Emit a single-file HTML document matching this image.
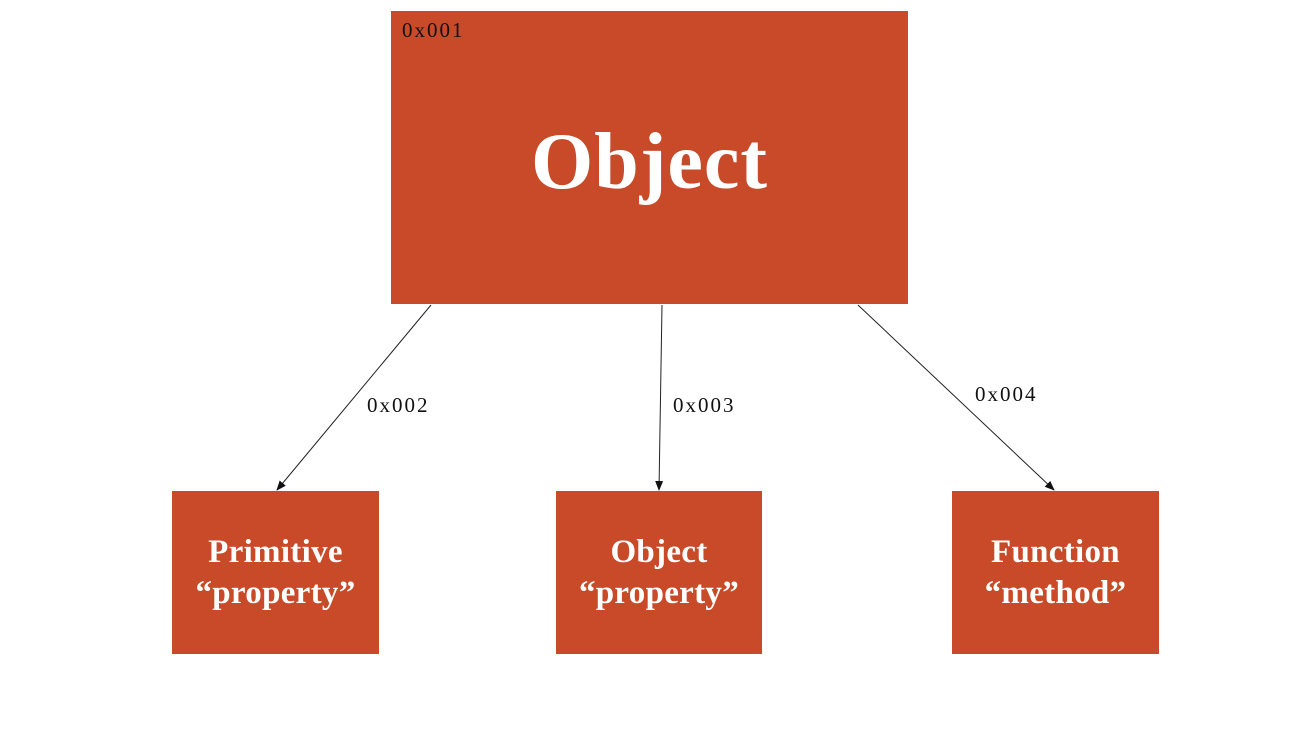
<!DOCTYPE html>
<html><head><meta charset="utf-8"><style>
html,body{margin:0;padding:0;background:#fff;}
body{width:1310px;height:734px;position:relative;overflow:hidden;font-family:"Liberation Serif",serif;}
.box{position:absolute;background:#C84A28;color:#fff;display:flex;align-items:center;justify-content:center;text-align:center;}
.small{font-size:33px;line-height:41px;font-weight:bold;letter-spacing:0.3px;}
.lbl{position:absolute;font-size:21px;letter-spacing:2px;color:#111;}
</style></head><body>
<div class="box" style="left:391px;top:11px;width:517px;height:293px;">
  <div style="font-size:80px;font-weight:bold;letter-spacing:1px;margin-top:10px;">Object</div>
</div>
<div class="lbl" style="left:402px;top:18px;color:#111;">0x001</div>
<div class="box small" style="left:172px;top:491px;width:207px;height:163px;"><div>Primitive<br>“property”</div></div>
<div class="box small" style="left:556px;top:491px;width:206px;height:163px;"><div>Object<br>“property”</div></div>
<div class="box small" style="left:952px;top:491px;width:207px;height:163px;"><div>Function<br>“method”</div></div>
<svg width="1310" height="734" style="position:absolute;left:0;top:0">
<defs><marker id="a" markerWidth="10" markerHeight="8" refX="9" refY="4" orient="auto" markerUnits="userSpaceOnUse"><path d="M0,0 L10,4 L0,8 Z" fill="#111"/></marker></defs>
<g stroke="#222" stroke-width="1" fill="none">
<line x1="431" y1="305" x2="277" y2="490" marker-end="url(#a)"/>
<line x1="662" y1="305" x2="659" y2="490" marker-end="url(#a)"/>
<line x1="858" y1="305" x2="1054" y2="490" marker-end="url(#a)"/>
</g></svg>
<div class="lbl" style="left:367px;top:393px;">0x002</div>
<div class="lbl" style="left:673px;top:393px;">0x003</div>
<div class="lbl" style="left:975px;top:382px;">0x004</div>
</body></html>
